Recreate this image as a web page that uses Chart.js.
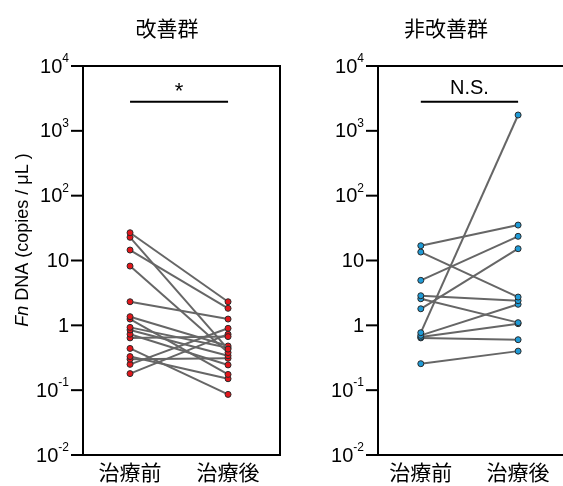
<!DOCTYPE html>
<html>
<head>
<meta charset="utf-8">
<script src="https://cdn.jsdelivr.net/npm/chart.js@4/dist/chart.umd.min.js"></script>
<style>
  html, body { margin: 0; padding: 0; background: #fff; overflow: hidden; }
  #wrap { position: relative; width: 563px; height: 486px; overflow: hidden; }
  canvas { position: absolute; top: 0; }
</style>
</head>
<body>
<div id="wrap">
  <canvas id="leftChart" width="290" height="486" style="left:0"></canvas>
  <canvas id="rightChart" width="273" height="486" style="left:290px"></canvas>
</div>
<script>
// categories and tick labels
const categories = ["治療前", "治療後"];
const yTicks = [0.01, 0.1, 1, 10, 100, 1000, 10000];
const yTickBase = ["10", "10", "1", "10", "10", "10", "10"];
const yTickExp = ["-2", "-1", "", "", "2", "3", "4"];
const yTitle = ["Fn", " DNA (copies / μL )"];

// 改善群 (paired values, before / after)
const improvedBefore = [26.8, 22.8, 14.5, 8.2, 2.31, 1.36, 1.25, 0.93, 0.85, 0.73, 0.64, 0.44, 0.33, 0.30, 0.25, 0.18];
const improvedAfter  = [2.31, 0.43, 1.83, 0.38, 1.25, 0.48, 0.175, 0.45, 0.34, 0.245, 0.67, 0.086, 0.15, 0.31, 0.90, 0.73];

// 非改善群
const nonBefore = [16.9, 13.5, 4.94, 2.86, 2.57, 1.80, 0.77, 0.70, 0.66, 0.64, 0.256];
const nonAfter  = [35.2, 2.73, 23.6, 2.40, 1.10, 15.2, 1754, 2.11, 1.06, 0.60, 0.40];

const latin = "'Liberation Sans', Arial, sans-serif";
const cjk = "'Noto Sans CJK JP', sans-serif";

function pairSets(before, after, fill) {
    return before.map((b, i) => ({
        data: [{ x: 0, y: b }, { x: 1, y: after[i] }],
        borderColor: "#666",
        borderWidth: 2,
        pointRadius: 3,
        pointBackgroundColor: fill,
        pointBorderColor: "#2a2a2a",
        pointBorderWidth: 1
    }));
}

// frame, tick labels, titles, significance marks
const decor = {
    id: "decor",
    afterDraw(chart, args, o) {
        const ctx = chart.ctx, a = chart.chartArea;
        const x = chart.scales.x, y = chart.scales.y;
        ctx.save();
        ctx.strokeStyle = "#000";
        ctx.lineWidth = 2;
        ctx.beginPath();
        if (o.rightBorder) {
            ctx.moveTo(a.left, a.bottom);
            ctx.lineTo(a.left, a.top);
            ctx.lineTo(a.right, a.top);
            ctx.lineTo(a.right, a.bottom);
            ctx.lineTo(a.left, a.bottom);
        } else {
            ctx.moveTo(chart.width, a.bottom);
            ctx.lineTo(a.left, a.bottom);
            ctx.lineTo(a.left, a.top);
            ctx.lineTo(chart.width, a.top);
        }
        ctx.stroke();

        // y ticks
        ctx.fillStyle = "#000";
        ctx.textBaseline = "middle";
        yTicks.forEach((v, i) => {
            const py = y.getPixelForValue(v);
            ctx.beginPath();
            ctx.moveTo(a.left - 12, py);
            ctx.lineTo(a.left, py);
            ctx.stroke();
            let right = a.left - 14;
            if (yTickExp[i]) {
                ctx.font = "12px " + latin;
                ctx.textAlign = "right";
                ctx.fillText(yTickExp[i], right, py - 7);
                right -= ctx.measureText(yTickExp[i]).width;
            }
            ctx.font = "20px " + latin;
            ctx.textAlign = "right";
            ctx.fillText(yTickBase[i], right, py + 1);
        });

        // category labels
        ctx.font = "21px " + cjk;
        ctx.textAlign = "center";
        categories.forEach((c, i) => ctx.fillText(c, x.getPixelForValue(i), 472));

        // panel title
        ctx.fillText(o.title, o.titleX, 28);

        // significance bar
        const by = y.getPixelForValue(2800);
        ctx.beginPath();
        ctx.moveTo(x.getPixelForValue(0), by);
        ctx.lineTo(x.getPixelForValue(1), by);
        ctx.stroke();
        ctx.font = o.mark === "*" ? "22px " + latin : "20px " + latin;
        ctx.fillText(o.mark, (x.getPixelForValue(0) + x.getPixelForValue(1)) / 2, o.mark === "*" ? 92 : 88);

        // y axis title
        if (o.yTitle) {
            ctx.translate(23, 240);
            ctx.rotate(-Math.PI / 2);
            ctx.font = "italic 18px " + latin;
            const w1 = ctx.measureText(yTitle[0]).width;
            ctx.font = "18px " + latin;
            const w2 = ctx.measureText(yTitle[1]).width;
            ctx.textAlign = "left";
            ctx.font = "italic 18px " + latin;
            ctx.fillText(yTitle[0], -(w1 + w2) / 2, 0);
            ctx.font = "18px " + latin;
            ctx.fillText(yTitle[1], -(w1 + w2) / 2 + w1, 0);
        }
        ctx.restore();
    }
};

function makeChart(id, datasets, axisWidth, padRight, xMin, xMax, opts) {
    return new Chart(document.getElementById(id), {
        type: "line",
        data: { datasets: datasets },
        options: {
            responsive: false,
            animation: false,
            layout: { padding: { top: 66, right: padRight, left: 0, bottom: 0 } },
            plugins: { legend: { display: false }, tooltip: { enabled: false }, decor: opts },
            scales: {
                x: {
                    type: "linear", min: xMin, max: xMax,
                    grid: { display: false }, border: { display: false },
                    ticks: { display: false },
                    afterFit(s) { s.height = 31; }
                },
                y: {
                    type: "logarithmic", min: 0.01, max: 10000,
                    grid: { display: false }, border: { display: false },
                    ticks: { display: false },
                    afterFit(s) { s.width = axisWidth; }
                }
            }
        },
        plugins: [decor]
    });
}

makeChart("leftChart", pairSets(improvedBefore, improvedAfter, "#e3161b"), 83, 10, -0.48, 1.53,
    { title: "改善群", titleX: 167, mark: "*", rightBorder: true, yTitle: true });
// right panel's box runs off the picture's right edge
makeChart("rightChart", pairSets(nonBefore, nonAfter, "#1f9ad6"), 88, 0, -0.44, 1.41,
    { title: "非改善群", titleX: 156, mark: "N.S.", rightBorder: false, yTitle: false });
</script>
</body>
</html>
